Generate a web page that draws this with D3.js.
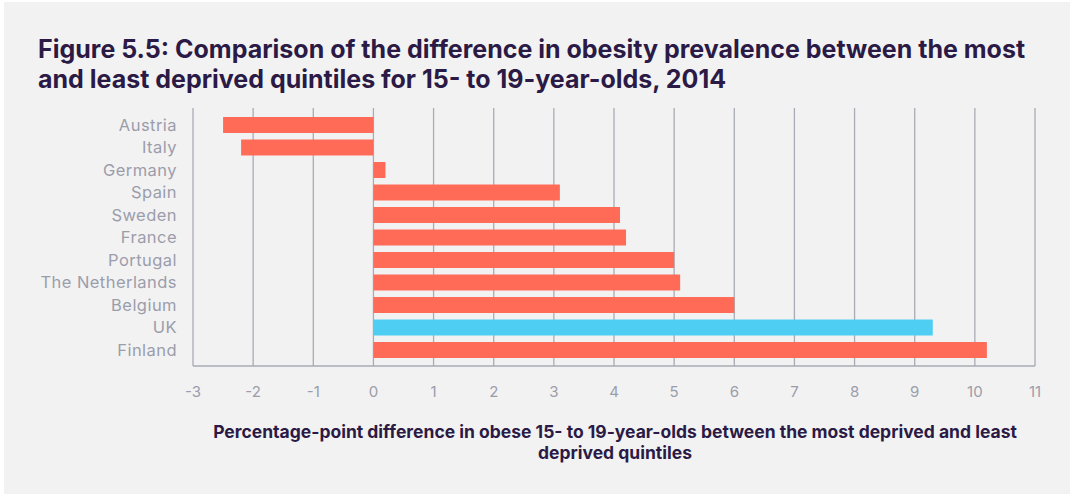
<!DOCTYPE html>
<html>
<head>
<meta charset="utf-8">
<script src="https://cdn.jsdelivr.net/npm/d3@7"></script>
<style>
  html, body { margin: 0; padding: 0; background: #ffffff; }
  svg { display: block; }
</style>
</head>
<body>
<svg id="chart" width="1070" height="494"></svg>
<script>
// Countries, top to bottom
const countries = ["Austria", "Italy", "Germany", "Spain", "Sweden", "France",
  "Portugal", "The Netherlands", "Belgium", "UK", "Finland"];
// Percentage-point difference (most vs least deprived quintile)
const differences = [-2.5, -2.2, 0.2, 3.1, 4.1, 4.2, 5.0, 5.1, 6.0, 9.3, 10.2];
// Highlighted country
const highlight = ["UK"];
// Axis ticks
const xTicks = [-3, -2, -1, 0, 1, 2, 3, 4, 5, 6, 7, 8, 9, 10, 11];

const titleLines = [
  "Figure 5.5: Comparison of the difference in obesity prevalence between the most",
  "and least deprived quintiles for 15- to 19-year-olds, 2014"
];
const axisTitleLines = [
  "Percentage-point difference in obese 15- to 19-year-olds between the most deprived and least",
  "deprived quintiles"
];

const svg = d3.select("#chart");
const font = "Inter, 'Open Sans', sans-serif";
const ink = "#2b1a45";
const muted = "#9b9dab";

// panel background
svg.append("rect")
  .attr("x", 4).attr("y", 2)
  .attr("width", 1066).attr("height", 492)
  .attr("fill", "#f2f2f2");

// title
svg.append("g").selectAll("text")
  .data(titleLines)
  .join("text")
  .attr("x", 38)
  .attr("y", (d, i) => 58 + i * 30)
  .attr("font-family", font)
  .attr("font-weight", 700)
  .attr("font-size", 25)
  .attr("fill", ink)
  .text(d => d);

const x = d3.scaleLinear().domain([-3, 11]).range([193, 1035]);
const y = d3.scaleBand().domain(countries).range([108, 367])
  .paddingInner(0.29).paddingOuter(0.4);

// gridlines
svg.append("g").selectAll("line")
  .data(xTicks)
  .join("line")
  .attr("x1", d => x(d)).attr("x2", d => x(d))
  .attr("y1", 108).attr("y2", 366)
  .attr("stroke", "#a9abb5")
  .attr("stroke-width", 1.3);

// bottom baseline
svg.append("line")
  .attr("x1", x(-3)).attr("x2", x(11))
  .attr("y1", 366).attr("y2", 366)
  .attr("stroke", "#a9abb5")
  .attr("stroke-width", 1.5);

// bars
svg.append("g").selectAll("rect")
  .data(countries.map((c, i) => ({ c, v: differences[i] })))
  .join("rect")
  .attr("x", d => x(Math.min(0, d.v)))
  .attr("width", d => Math.abs(x(d.v) - x(0)))
  .attr("y", d => y(d.c))
  .attr("height", y.bandwidth())
  .attr("fill", d => highlight.includes(d.c) ? "#4ecef3" : "#ff6b57");

// country labels
svg.append("g").selectAll("text")
  .data(countries)
  .join("text")
  .attr("x", 177)
  .attr("y", d => y(d) + y.bandwidth() / 2)
  .attr("dy", "0.36em")
  .attr("text-anchor", "end")
  .attr("font-family", font)
  .attr("font-size", 16.5)
  .attr("letter-spacing", 0.45)
  .attr("fill", muted)
  .text(d => d);

// tick labels
svg.append("g").selectAll("text")
  .data(xTicks)
  .join("text")
  .attr("x", d => x(d))
  .attr("y", 397)
  .attr("text-anchor", "middle")
  .attr("font-family", font)
  .attr("font-size", 15)
  .attr("fill", muted)
  .text(d => d);

// axis title
svg.append("g").selectAll("text")
  .data(axisTitleLines)
  .join("text")
  .attr("x", 615)
  .attr("y", (d, i) => 438 + i * 21)
  .attr("text-anchor", "middle")
  .attr("font-family", font)
  .attr("font-weight", 700)
  .attr("font-size", 17.5)
  .attr("fill", ink)
  .text(d => d);
</script>
</body>
</html>
